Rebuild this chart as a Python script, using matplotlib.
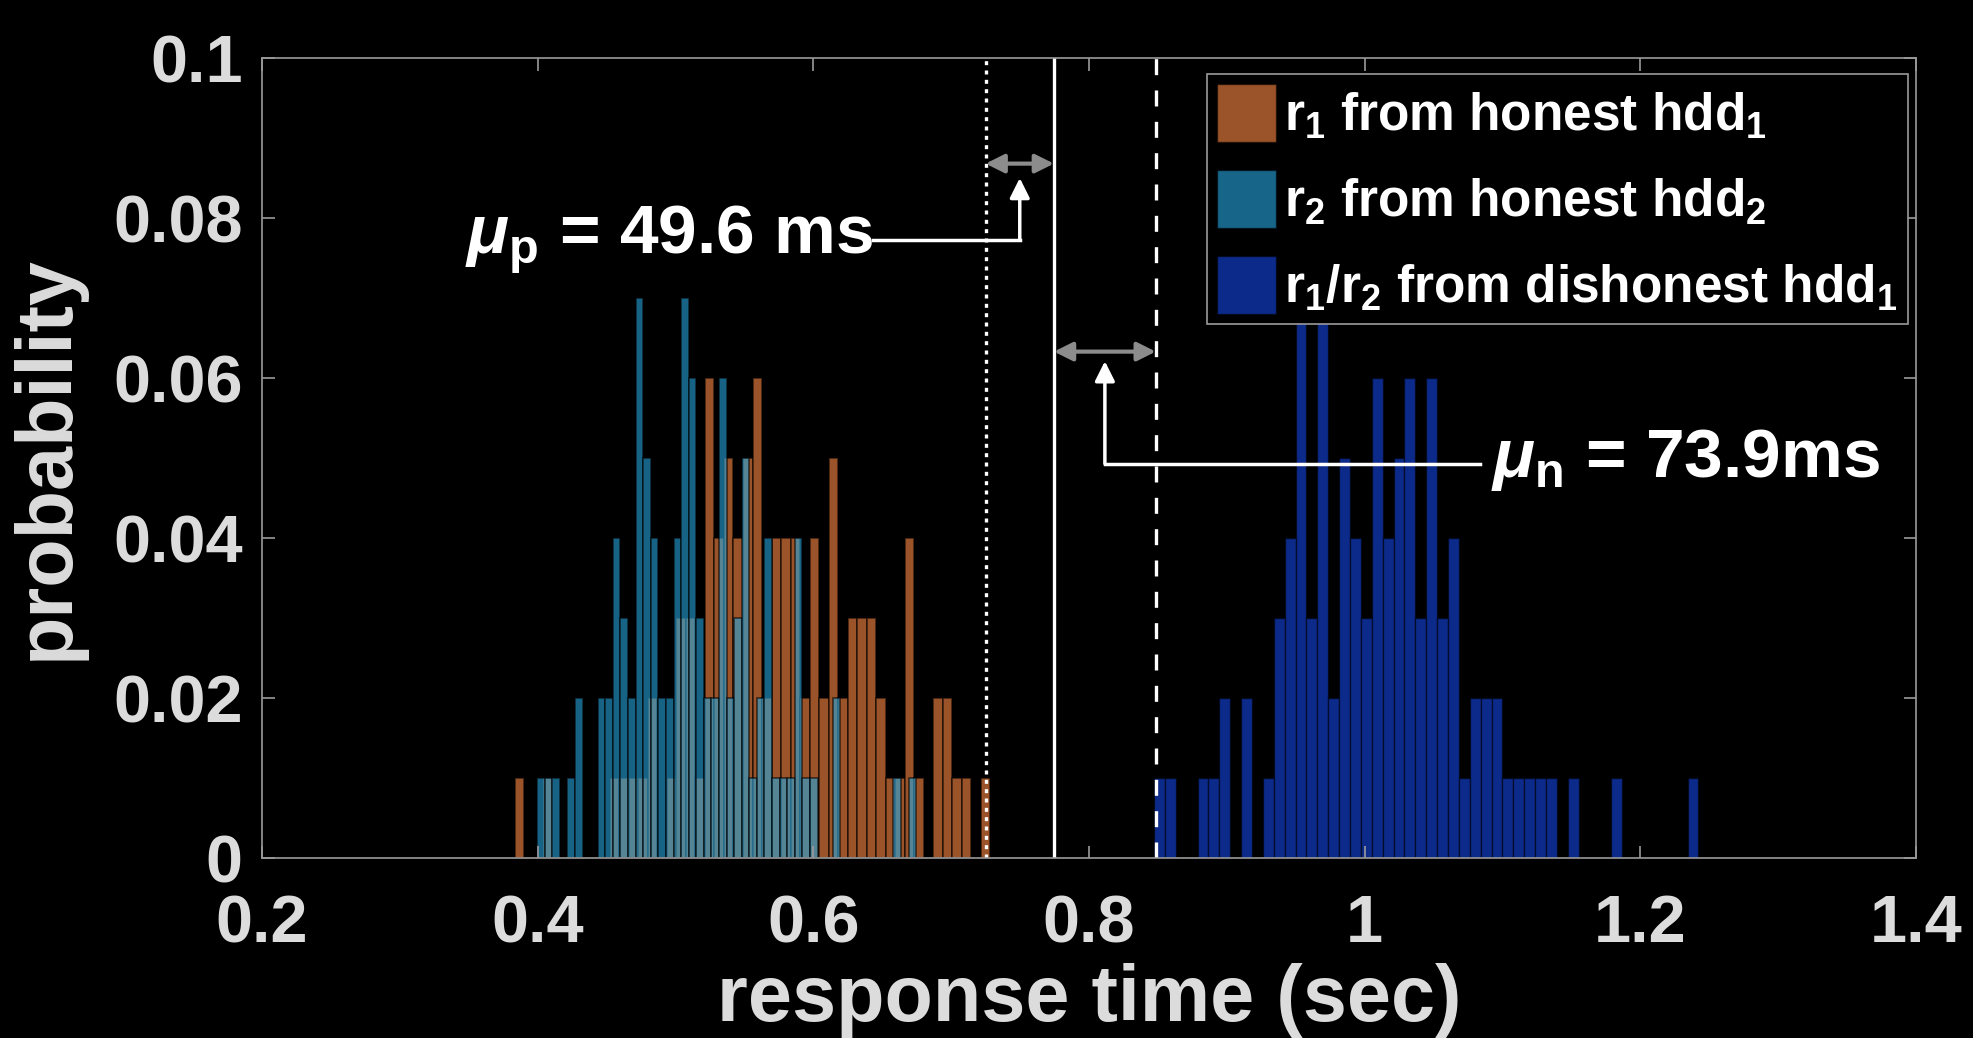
import numpy as np
import matplotlib
matplotlib.use("Agg")
import matplotlib.pyplot as plt
from matplotlib.patches import Patch

# --- Data (probability per bin, 100 samples per series -> counts / 100) ---
N_SAMPLES = 100

# r1 from honest hdd1 (orange)
R1_BIN_START = 0.3834
R1_BIN_WIDTH = 0.0069
R1_COUNTS = [1, 0, 0, 1, 0, 0, 0, 0, 0, 0,
             1, 1, 1, 1, 2, 0, 1, 3, 3, 1,
             6, 4, 5, 4, 5, 6, 2, 4, 4, 4,
             2, 4, 2, 5, 2, 3, 3, 3, 2, 1,
             1, 4, 1, 0, 2, 2, 1, 1, 0, 1]

# r2 from honest hdd2 (teal)
R2_BIN_START = 0.3996
R2_BIN_WIDTH = 0.0055
R2_COUNTS = [1, 1, 1, 0, 1, 2, 0, 0, 2, 2,
             4, 3, 2, 7, 5, 4, 2, 2, 4, 7,
             6, 3, 2, 2, 6, 2, 3, 5, 1, 2,
             4, 1, 1, 1, 4, 1, 1, 0, 0, 2,
             0, 0, 0, 0, 0, 0, 0, 1, 0, 1]

# r1/r2 from dishonest hdd1 (blue)
DIS_BIN_START = 0.8472
DIS_BIN_WIDTH = 0.0079
DIS_COUNTS = [1, 1, 0, 0, 1, 1, 2, 0, 2, 0,
              1, 3, 4, 7, 3, 7, 2, 5, 4, 3,
              6, 4, 5, 6, 3, 6, 3, 4, 1, 2,
              2, 2, 1, 1, 1, 1, 1, 0, 1, 0,
              0, 0, 1, 0, 0, 0, 0, 0, 0, 1]

# reference lines (sec)
T_MAX_HONEST = 0.725     # dotted
T_THRESHOLD = 0.7746     # solid
T_MIN_DISHONEST = 0.8485  # dashed

LABELS = [r"$r_1$ from honest hdd$_1$",
          r"$r_2$ from honest hdd$_2$",
          r"$r_1/r_2$ from dishonest hdd$_1$"]

X_TICKS = [0.2, 0.4, 0.6, 0.8, 1.0, 1.2, 1.4]
X_TICK_LABELS = ["0.2", "0.4", "0.6", "0.8", "1", "1.2", "1.4"]
Y_TICKS = [0, 0.02, 0.04, 0.06, 0.08, 0.1]
Y_TICK_LABELS = ["0", "0.02", "0.04", "0.06", "0.08", "0.1"]

# --- Style ---
ORANGE = "#9b5329"
TEAL = "#27a6df"
BLUE = "#0c2a8a"
FRAME = "#9a9a9a"
TICK_TEXT = "#dcdcdc"

plt.rcParams["font.family"] = ["Liberation Sans", "DejaVu Sans"]
plt.rcParams["font.weight"] = "bold"
plt.rcParams["axes.labelweight"] = "bold"
plt.rcParams["mathtext.fontset"] = "custom"
plt.rcParams["mathtext.rm"] = "Liberation Sans:bold"
plt.rcParams["mathtext.bf"] = "Liberation Sans:bold"
plt.rcParams["mathtext.it"] = "Liberation Sans:italic"
plt.rcParams["mathtext.default"] = "bf"


def draw_hist(ax, start, width, counts, **kw):
    counts = np.asarray(counts, dtype=float)
    left = start + width * np.arange(len(counts))
    keep = counts > 0
    ax.bar(left[keep], counts[keep] / N_SAMPLES, width=width, align="edge", **kw)


fig = plt.figure(figsize=(19.74, 10.38), dpi=100, facecolor="black")
ax = fig.add_axes([0.1327, 0.1734, 0.8379, 0.7707])
ax.set_facecolor("black")

draw_hist(ax, R1_BIN_START, R1_BIN_WIDTH, R1_COUNTS,
          color=ORANGE, edgecolor=(0, 0, 0, 0.6), linewidth=1.2)
draw_hist(ax, R2_BIN_START, R2_BIN_WIDTH, R2_COUNTS,
          color=TEAL, alpha=0.6, edgecolor=(0, 0, 0, 0.6), linewidth=1.2)
draw_hist(ax, DIS_BIN_START, DIS_BIN_WIDTH, DIS_COUNTS,
          color=BLUE, edgecolor=(0, 0, 0, 0.5), linewidth=1.0)

ax.axvline(T_MAX_HONEST, color="white", lw=2.4, linestyle=(0, (1.2, 1.6)))
ax.axvline(T_THRESHOLD, color="white", lw=2.4)
ax.axvline(T_MIN_DISHONEST, color="white", lw=2.4, linestyle=(0, (4.8, 4.6)))

# gray double arrows showing the gaps
gap_p_y = 0.0868
gap_n_y = 0.0633
for x0, x1, y in [(T_MAX_HONEST, T_THRESHOLD, gap_p_y),
                  (T_THRESHOLD, T_MIN_DISHONEST, gap_n_y)]:
    ax.annotate("", xy=(x1, y), xytext=(x0, y),
                arrowprops=dict(arrowstyle="<|-|>", color="#8c8c8c", lw=3,
                                mutation_scale=28, shrinkA=0, shrinkB=0))

# white callouts
mid_p = (T_MAX_HONEST + T_THRESHOLD) / 2
mid_n = (T_THRESHOLD + T_MIN_DISHONEST) / 2
text_p_x, text_p_y = 0.6435, 0.0773
text_n_x, text_n_y = 1.0834, 0.0493

ax.plot([text_p_x, mid_p], [text_p_y, text_p_y], color="white", lw=2.5)
ax.annotate("", xy=(mid_p, gap_p_y - 0.0018), xytext=(mid_p, text_p_y),
            arrowprops=dict(arrowstyle="-|>", color="white", lw=2.5,
                            mutation_scale=30, shrinkA=0, shrinkB=0))
ax.text(text_p_x, text_p_y, r"$\mathit{\mu}_{p}$ = 49.6 ms", color="white",
        fontsize=50, ha="right", va="center")

ax.plot([text_n_x, mid_n], [text_n_y, text_n_y], color="white", lw=2.5)
ax.annotate("", xy=(mid_n, gap_n_y - 0.0012), xytext=(mid_n, text_n_y),
            arrowprops=dict(arrowstyle="-|>", color="white", lw=2.5,
                            mutation_scale=30, shrinkA=0, shrinkB=0))
ax.text(text_n_x + 0.008, text_n_y + 0.0005, r"$\mathit{\mu}_{n}$ = 73.9ms", color="white",
        fontsize=50, ha="left", va="center")

# axes styling
ax.set_xlim(0.2, 1.4)
ax.set_ylim(0, 0.1)
ax.set_xticks(X_TICKS, X_TICK_LABELS)
ax.set_yticks(Y_TICKS, Y_TICK_LABELS)
ax.tick_params(direction="in", length=9, width=1.2, colors=FRAME,
               labelcolor=TICK_TEXT, labelsize=48, top=True, right=True)
ax.tick_params(axis="x", pad=26)
ax.tick_params(axis="y", pad=14)
for s in ax.spines.values():
    s.set_color(FRAME)
    s.set_linewidth(1.2)

ax.set_xlabel("response time (sec)", fontsize=57, color=TICK_TEXT, labelpad=5)
ax.set_ylabel("probability", fontsize=57, color=TICK_TEXT, labelpad=20)

handles = [Patch(facecolor=ORANGE, edgecolor=(0, 0, 0, 0.5)),
           Patch(facecolor="#176589", edgecolor=(0, 0, 0, 0.5)),
           Patch(facecolor=BLUE, edgecolor=(0, 0, 0, 0.5))]
leg = ax.legend(handles, LABELS, loc="upper right", bbox_to_anchor=(0.995, 0.98),
                fontsize=37, frameon=True, fancybox=False, framealpha=1,
                facecolor="black", edgecolor=FRAME, labelcolor="white",
                handlelength=1.15, handleheight=1.35, handletextpad=0.15,
                labelspacing=0.55, borderpad=0.2, borderaxespad=0)
leg.get_frame().set_linewidth(1.2)

fig.savefig("out.png", dpi=100, facecolor="black")
